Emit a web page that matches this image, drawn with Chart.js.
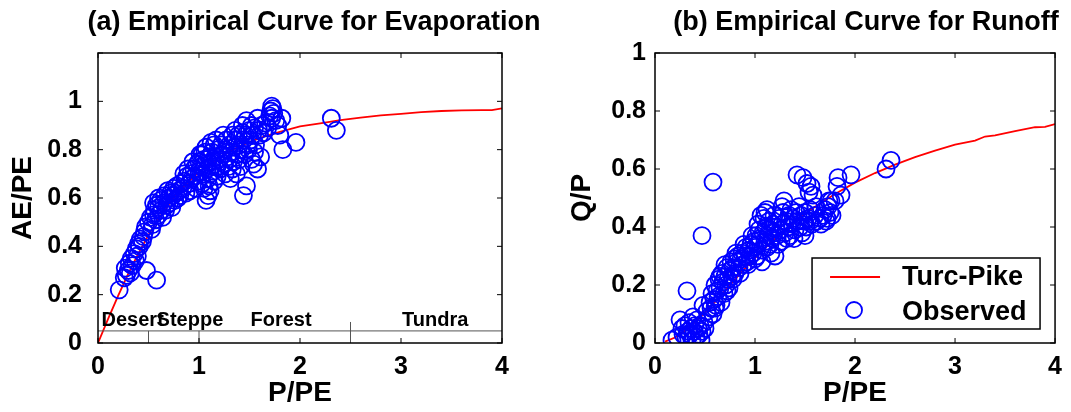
<!DOCTYPE html>
<html>
<head>
<meta charset="utf-8">
<title>Empirical curves</title>
<script src="https://cdn.jsdelivr.net/npm/chart.js@4.4.0/dist/chart.umd.min.js"></script>
<style>
    html, body { margin: 0; padding: 0; background: #fff; }
    #wrap { position: relative; width: 1071px; height: 412px; }
    #evapChart { position: absolute; left: 0; top: 0; }
    #runoffChart { position: absolute; left: 540px; top: 0; }
</style>
</head>
<body>
<div id="wrap">
    <canvas id="evapChart" width="540" height="412"></canvas>
    <canvas id="runoffChart" width="531" height="412"></canvas>
</div>
<script>
// ---- Data ----

// (a) observed AE/PE vs P/PE
const evapX = [
    0.21, 0.26, 0.28, 0.30, 0.31, 0.33, 0.34, 0.36, 0.38, 0.40, 0.42, 0.41, 0.44, 0.39, 0.37, 0.32, 0.27, 0.48, 0.58, 0.46, 0.47, 0.45,
    0.50, 0.52, 0.54, 0.55, 0.56, 0.58, 0.60, 0.57, 0.62, 0.63, 0.65, 0.66, 0.68, 0.70, 0.72, 0.71, 0.74, 0.75, 0.77, 0.78, 0.80, 0.79, 0.60, 0.53, 0.64,
    0.82, 0.84, 0.86, 0.88, 0.90, 0.92, 0.93, 0.95, 0.96, 0.98, 1.00, 1.00, 1.02, 1.03, 1.04, 1.05, 1.06, 1.07, 1.08, 1.09, 1.10, 1.10, 1.11, 1.12,
    1.13, 1.14, 1.15, 1.16, 1.17, 1.18, 1.19, 1.07, 1.09, 1.05, 0.97, 1.12,
    1.20, 1.22, 1.23, 1.25, 1.26, 1.27, 1.28, 1.30, 1.31, 1.32, 1.33, 1.34, 1.35, 1.36, 1.38, 1.39, 1.40, 1.41, 1.42, 1.43, 1.44, 1.45, 1.44, 1.47,
    1.46, 1.47, 1.48, 1.50, 1.51, 1.52, 1.53, 1.54, 1.55, 1.56, 1.58, 1.58, 1.60, 1.61, 1.29, 1.37,
    1.66, 1.70, 1.71, 1.72, 1.73, 1.74, 1.72, 1.76, 1.78, 1.82, 1.80, 1.83, 1.96, 2.31, 2.36, 1.68,
    0.55, 0.60, 0.67, 0.69, 0.73, 0.76, 0.81, 0.85, 0.87, 0.89, 0.91, 0.94, 0.99, 1.01, 1.03, 1.06, 1.08, 1.11, 1.13, 1.15,
    1.18, 1.21, 1.24, 1.26, 1.30, 1.33, 1.36, 1.40, 1.43, 1.49, 1.52, 1.55, 1.59, 1.62, 1.64
];
const evapY = [
    0.22, 0.27, 0.28, 0.30, 0.33, 0.35, 0.32, 0.37, 0.39, 0.41, 0.43, 0.40, 0.42, 0.36, 0.34, 0.29, 0.31, 0.30, 0.26, 0.46, 0.48, 0.44,
    0.50, 0.52, 0.49, 0.53, 0.55, 0.57, 0.56, 0.51, 0.59, 0.55, 0.58, 0.61, 0.57, 0.60, 0.62, 0.58, 0.61, 0.64, 0.62, 0.65, 0.63, 0.60, 0.60, 0.47, 0.52,
    0.66, 0.64, 0.67, 0.69, 0.66, 0.70, 0.68, 0.72, 0.69, 0.74, 0.71, 0.75, 0.73, 0.78, 0.70, 0.76, 0.74, 0.81, 0.72, 0.68, 0.77, 0.65, 0.63, 0.75,
    0.79, 0.71, 0.67, 0.77, 0.84, 0.73, 0.80, 0.59, 0.61, 0.64, 0.64, 0.83,
    0.76, 0.82, 0.78, 0.74, 0.80, 0.84, 0.77, 0.82, 0.68, 0.79, 0.86, 0.75, 0.81, 0.84, 0.78, 0.86, 0.82, 0.73, 0.80, 0.87, 0.84, 0.78, 0.61, 0.65,
    0.86, 0.92, 0.82, 0.88, 0.84, 0.76, 0.86, 0.74, 0.89, 0.82, 0.72, 0.93, 0.86, 0.77, 0.73, 0.70,
    0.91, 0.94, 0.96, 0.98, 0.97, 0.95, 0.93, 0.92, 0.90, 0.93, 0.86, 0.80, 0.83, 0.93, 0.88, 0.89,
    0.58, 0.53, 0.55, 0.63, 0.56, 0.59, 0.61, 0.70, 0.62, 0.72, 0.63, 0.75, 0.67, 0.78, 0.66, 0.79, 0.76, 0.70, 0.73, 0.82,
    0.69, 0.72, 0.86, 0.70, 0.76, 0.72, 0.88, 0.76, 0.90, 0.80, 0.90, 0.79, 0.88, 0.90, 0.87
];

// (b) observed Q/P vs P/PE
const runoffX = [
    0.17, 0.22, 0.25, 0.27, 0.28, 0.30, 0.31, 0.33, 0.34, 0.35, 0.36, 0.37, 0.38, 0.39, 0.40, 0.41, 0.42, 0.43, 0.44, 0.45, 0.46, 0.47, 0.48, 0.49,
    0.50, 0.52, 0.32, 0.47, 0.58,
    0.54, 0.55, 0.56, 0.57, 0.58, 0.59, 0.60, 0.61, 0.62, 0.63, 0.64, 0.65, 0.66, 0.67, 0.68, 0.69, 0.70, 0.71, 0.72, 0.73, 0.74, 0.75, 0.76, 0.77,
    0.78, 0.79, 0.80,
    0.82, 0.83, 0.84, 0.86, 0.87, 0.88, 0.90, 0.91, 0.92, 0.94, 0.95, 0.96, 0.98, 0.99, 1.00, 1.01, 1.02, 1.03, 1.04, 1.05, 1.06, 1.07, 1.08, 1.09,
    1.10, 1.11, 1.12, 1.13, 1.14, 1.15, 1.16, 1.17, 1.18, 1.19, 1.10, 1.20,
    1.21, 1.22, 1.24, 1.25, 1.26, 1.27, 1.28, 1.29, 1.30, 1.31, 1.33, 1.34, 1.35, 1.37, 1.38, 1.40, 1.41, 1.42, 1.43, 1.45, 1.46, 1.47, 1.48, 1.49,
    1.50, 1.51, 1.52, 1.53, 1.54, 1.55, 1.56, 1.57, 1.58, 1.60, 1.62, 1.65, 1.68, 1.70, 1.72, 1.73, 1.75, 1.76, 1.77,
    1.80, 1.82, 1.83, 1.86, 1.96, 2.31, 2.36,
    0.60, 0.65, 0.70, 0.72, 0.78, 0.81, 0.85, 0.89, 0.93, 0.97, 1.00, 1.03, 1.07, 1.12, 1.15, 1.19, 1.23, 1.27, 1.32, 1.36,
    1.39, 1.44, 1.50, 1.55, 1.61, 1.66, 1.71, 1.74
];
const runoffY = [
    0.01, 0.02, 0.08, 0.05, 0.03, 0.06, 0.02, 0.04, 0.07, 0.03, 0.05, 0.01, 0.09, 0.04, 0.06, 0.02, 0.08, 0.05, 0.03, 0.06, 0.01, 0.04, 0.13, 0.07,
    0.05, 0.11, 0.18, 0.37, 0.555,
    0.09, 0.14, 0.12, 0.17, 0.10, 0.15, 0.20, 0.13, 0.18, 0.16, 0.22, 0.19, 0.14, 0.24, 0.21, 0.17, 0.23, 0.20, 0.26, 0.22, 0.19, 0.25, 0.28, 0.23,
    0.26, 0.29, 0.24,
    0.28, 0.30, 0.26, 0.29, 0.31, 0.27, 0.30, 0.33, 0.28, 0.32, 0.30, 0.34, 0.31, 0.35, 0.33, 0.37, 0.30, 0.34, 0.39, 0.36, 0.44, 0.32, 0.38, 0.43,
    0.35, 0.40, 0.33, 0.37, 0.42, 0.39, 0.31, 0.36, 0.41, 0.38, 0.45, 0.30,
    0.40, 0.37, 0.43, 0.39, 0.35, 0.41, 0.45, 0.49, 0.38, 0.42, 0.40, 0.44, 0.37, 0.41, 0.43, 0.39, 0.45, 0.58, 0.42, 0.40, 0.44, 0.38, 0.57, 0.42,
    0.45, 0.40, 0.55, 0.43, 0.52, 0.46, 0.54, 0.41, 0.51, 0.44, 0.42, 0.43, 0.44, 0.46, 0.43, 0.47, 0.45, 0.49, 0.44,
    0.49, 0.54, 0.57, 0.51, 0.58, 0.60, 0.63,
    0.12, 0.23, 0.27, 0.18, 0.22, 0.31, 0.24, 0.34, 0.27, 0.37, 0.29, 0.41, 0.28, 0.46, 0.34, 0.44, 0.34, 0.47, 0.36, 0.46,
    0.36, 0.47, 0.37, 0.42, 0.47, 0.41, 0.42, 0.49
];

// Turc-Pike curves (red lines)
const evapCurveX = [0, 0.1, 0.2, 0.3, 0.4, 0.5, 0.6, 0.7, 0.8, 0.9, 1.0, 1.2, 1.4, 1.6, 1.8, 2.0, 2.2, 2.4, 2.6, 2.8, 3.0, 3.2, 3.4, 3.6, 3.8, 3.9, 4.0];
const evapCurveY = [0, 0.10, 0.196, 0.287, 0.371, 0.447, 0.514, 0.573, 0.625, 0.669, 0.707, 0.768, 0.814, 0.848, 0.874, 0.896, 0.909, 0.922, 0.933, 0.942, 0.948, 0.955, 0.960, 0.963, 0.964, 0.964, 0.971];
const runoffCurveX = [0.1, 0.2, 0.3, 0.4, 0.5, 0.6, 0.7, 0.8, 0.9, 1.0, 1.2, 1.4, 1.6, 1.8, 2.0, 2.2, 2.4, 2.6, 2.8, 3.0, 3.2, 3.3, 3.4, 3.6, 3.8, 3.9, 4.0];
const runoffCurveY = [0.005, 0.019, 0.042, 0.072, 0.106, 0.142, 0.181, 0.219, 0.257, 0.293, 0.360, 0.419, 0.470, 0.514, 0.553, 0.586, 0.615, 0.641, 0.663, 0.684, 0.698, 0.712, 0.716, 0.731, 0.744, 0.745, 0.755];

// Climate zone strip on panel (a)
const biomeNames = ['Desert', 'Steppe', 'Forest', 'Tundra'];
const biomeLabelX = [0.035, 0.58, 1.51, 3.01];
const biomeEdges = [0.5, 1.0, 2.5];

const titles = ['(a) Empirical Curve for Evaporation', '(b) Empirical Curve for Runoff'];
const legendLabels = ['Turc-Pike', 'Observed'];

// ---- Helpers ----
const FONT = '"Liberation Sans", Arial, Helvetica, sans-serif';
Chart.defaults.font.family = FONT;
Chart.defaults.color = '#000';
Chart.defaults.animation = false;

function toPoints(xs, ys) {
    return xs.map((x, i) => ({ x: x, y: ys[i] }));
}

/**
 * Frame plugin: box, inward tick marks (MATLAB style) and panel title
 */
function framePlugin(title, titleShift) {
    return {
        id: 'frame',
        afterDraw(chart) {
            const { ctx, chartArea: a, scales } = chart;
            ctx.save();
            ctx.strokeStyle = '#000';
            ctx.lineWidth = 1.5;
            ctx.strokeRect(a.left, a.top, a.right - a.left, a.bottom - a.top);

            const len = 5;
            ctx.lineWidth = 1;
            ctx.beginPath();
            scales.x.ticks.forEach(t => {
                const px = scales.x.getPixelForValue(t.value);
                ctx.moveTo(px, a.bottom); ctx.lineTo(px, a.bottom - len);
                ctx.moveTo(px, a.top); ctx.lineTo(px, a.top + len);
            });
            scales.y.ticks.forEach(t => {
                const py = scales.y.getPixelForValue(t.value);
                ctx.moveTo(a.left, py); ctx.lineTo(a.left + len, py);
                ctx.moveTo(a.right, py); ctx.lineTo(a.right - len, py);
            });
            ctx.stroke();

            ctx.fillStyle = '#000';
            ctx.font = 'bold 27px ' + FONT;
            ctx.textAlign = 'center';
            ctx.textBaseline = 'middle';
            ctx.fillText(title, (a.left + a.right) / 2 + titleShift, 23);
            ctx.restore();
        }
    };
}

// Zone strip along the bottom of panel (a)
const biomePlugin = {
    id: 'biomes',
    afterDatasetsDraw(chart) {
        const { ctx, chartArea: a, scales: { x, y } } = chart;
        const lineY = y.getPixelForValue(0.05);
        ctx.save();
        ctx.strokeStyle = '#555';
        ctx.lineWidth = 1;
        ctx.beginPath();
        ctx.moveTo(a.left, lineY); ctx.lineTo(a.right, lineY);
        biomeEdges.forEach((e, i) => {
            const px = x.getPixelForValue(e);
            const top = i === 2 ? y.getPixelForValue(0.087) : lineY;
            ctx.moveTo(px, a.bottom); ctx.lineTo(px, top);
        });
        ctx.stroke();

        ctx.fillStyle = '#000';
        ctx.font = 'bold 20px ' + FONT;
        ctx.textAlign = 'left';
        ctx.textBaseline = 'middle';
        biomeNames.forEach((name, i) => {
            ctx.fillText(name, x.getPixelForValue(biomeLabelX[i]), y.getPixelForValue(0.095));
        });
        ctx.restore();
    }
};

// Legend box inside panel (b)
const legendPlugin = {
    id: 'boxLegend',
    afterDraw(chart) {
        const { ctx, chartArea: a } = chart;
        const w = 228, h = 71;
        const left = a.right - 15 - w;
        const top = a.bottom - 14 - h;
        ctx.save();
        ctx.fillStyle = '#fff';
        ctx.fillRect(left, top, w, h);
        ctx.strokeStyle = '#000';
        ctx.lineWidth = 1.5;
        ctx.strokeRect(left, top, w, h);

        ctx.strokeStyle = '#ff0000';
        ctx.lineWidth = 1.8;
        ctx.beginPath();
        ctx.moveTo(left + 18, top + 19); ctx.lineTo(left + 68, top + 19);
        ctx.stroke();

        ctx.strokeStyle = '#0000ff';
        ctx.lineWidth = 1.8;
        ctx.beginPath();
        ctx.arc(left + 42, top + 52, 8, 0, Math.PI * 2);
        ctx.stroke();

        ctx.fillStyle = '#000';
        ctx.font = 'bold 27px ' + FONT;
        ctx.textAlign = 'left';
        ctx.textBaseline = 'middle';
        ctx.fillText(legendLabels[0], left + 90, top + 20);
        ctx.fillText(legendLabels[1], left + 90, top + 55);
        ctx.restore();
    }
};

function makeOptions(yMax, yLabel, yWidth, yTitlePad, yTickPad, rightPad) {
    return {
        responsive: false,
        layout: { padding: { top: 53, right: rightPad, bottom: 0, left: 0 } },
        plugins: { legend: { display: false }, tooltip: { enabled: false } },
        scales: {
            x: {
                type: 'linear',
                min: 0,
                max: 4,
                ticks: { stepSize: 1, color: '#000', padding: 9, font: { size: 25, weight: 'bold' } },
                grid: { display: false, drawTicks: false },
                border: { display: false },
                title: { display: true, text: 'P/PE', color: '#000', font: { size: 28, weight: 'bold' }, padding: { top: 0, bottom: 2 } },
                afterFit(scale) { scale.height = 69; }
            },
            y: {
                type: 'linear',
                min: 0,
                max: yMax,
                ticks: {
                    stepSize: 0.2,
                    autoSkip: false,
                    color: '#000',
                    padding: yTickPad,
                    font: { size: 25, weight: 'bold' },
                    callback: v => (v > 1.001 ? '' : String(Math.round(v * 10) / 10))
                },
                grid: { display: false, drawTicks: false },
                border: { display: false },
                title: { display: true, text: yLabel, color: '#000', font: { size: 28, weight: 'bold' }, padding: { top: yTitlePad, bottom: 0 } },
                afterFit(scale) { scale.width = yWidth; }
            }
        }
    };
}

function makeDatasets(obsX, obsY, curveX, curveY) {
    return [
        {
            label: legendLabels[1],
            data: toPoints(obsX, obsY),
            pointStyle: 'circle',
            pointRadius: 8.5,
            borderColor: '#0000ff',
            backgroundColor: 'rgba(0,0,0,0)',
            borderWidth: 1.8,
            showLine: false
        },
        {
            label: legendLabels[0],
            data: toPoints(curveX, curveY),
            showLine: true,
            borderColor: '#ff0000',
            borderWidth: 1.8,
            pointRadius: 0,
            tension: 0
        }
    ];
}

new Chart(document.getElementById('evapChart'), {
    type: 'scatter',
    data: { datasets: makeDatasets(evapX, evapY, evapCurveX, evapCurveY) },
    options: makeOptions(1.2, 'AE/PE', 98, 6, 16, 38),
    plugins: [biomePlugin, framePlugin(titles[0], 14)]
});

new Chart(document.getElementById('runoffChart'), {
    type: 'scatter',
    data: { datasets: makeDatasets(runoffX, runoffY, runoffCurveX, runoffCurveY) },
    options: makeOptions(1.0, 'Q/P', 115, 25, 9, 11),
    plugins: [legendPlugin, framePlugin(titles[1], 11)]
});
</script>
</body>
</html>
